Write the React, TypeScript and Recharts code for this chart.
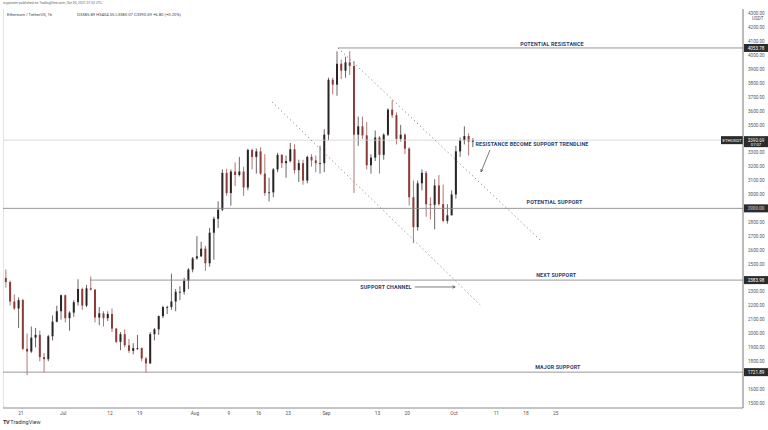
import { ComposedChart, Bar, XAxis, YAxis, ReferenceLine, ReferenceDot } from 'recharts';

// Daily ETH/USDT candles, Jun 17 -> Oct 5 2021 (day index 0 = Jun 17)
const opens = [
  2400, 2370, 2230, 2180, 2240, 1890, 1870, 1970, 1990, 1830, 1815, 1980, 2085, 2160,
  2275, 2110, 2150, 2225, 2320, 2200, 2325, 2315, 2115, 2145, 2110, 2140, 2035, 1940, 1995, 1915,
  1875, 1895, 1895, 1820, 1785, 1995, 2030, 2125, 2190, 2190, 2230, 2300, 2300, 2380, 2460,
  2540, 2555, 2610, 2505, 2725, 2825, 2890, 3155, 3010, 3165, 3140, 3165, 3050, 3320, 3270,
  3310, 3150, 3010, 3015, 3180, 3285, 3225, 3240, 3325, 3175, 3225, 3100, 3270, 3245, 3225, 3225,
  3430, 3825, 3790, 3940, 3890, 3950, 3925, 3430, 3490, 3425, 3210, 3265, 3410, 3285, 3430,
  3610, 3570, 3400, 3430, 3330, 2980, 2765, 3080, 3155, 2930, 2925, 3065, 2930, 2810, 2850,
  3000, 3310, 3390, 3420, 3380,
];
const highs = [
  2460, 2380, 2280, 2260, 2250, 2000, 2050, 2040, 2020, 1860, 1990, 2130, 2200, 2280,
  2280, 2160, 2240, 2390, 2330, 2350, 2410, 2320, 2190, 2160, 2160, 2180, 2040, 2010, 2030, 1960,
  1930, 1990, 1900, 1830, 2010, 2040, 2130, 2200, 2200, 2430, 2320, 2340, 2400, 2470, 2550,
  2700, 2660, 2630, 2760, 2840, 2950, 3180, 3185, 3180, 3230, 3270, 3200, 3330, 3330, 3330,
  3340, 3290, 3120, 3190, 3300, 3290, 3280, 3370, 3360, 3250, 3250, 3280, 3290, 3280, 3350, 3470,
  3840, 3840, 4030, 3970, 3990, 4030, 3960, 3560, 3560, 3520, 3290, 3460, 3420, 3440, 3620,
  3680, 3590, 3500, 3440, 3340, 3100, 3100, 3180, 3170, 2980, 3110, 3140, 3070, 2930, 3030,
  3350, 3410, 3490, 3440, 3405,
];
const lows = [
  2330, 2200, 2170, 2040, 1880, 1700, 1860, 1900, 1800, 1720, 1800, 1950, 2080, 2100,
  2080, 2020, 2120, 2200, 2170, 2190, 2310, 2080, 2060, 2050, 2090, 2010, 1930, 1880, 1900, 1860,
  1850, 1880, 1800, 1718, 1780, 1950, 1990, 2110, 2140, 2170, 2160, 2240, 2280, 2320, 2440,
  2530, 2550, 2450, 2480, 2530, 2760, 2880, 2990, 2920, 3060, 3130, 2990, 3030, 3180, 3150,
  3140, 2990, 2950, 2980, 3160, 3190, 3120, 3230, 3150, 3090, 3070, 3080, 3200, 3160, 3150, 3160,
  3390, 3720, 3710, 3830, 3840, 3860, 3010, 3350, 3400, 3180, 3150, 3240, 3150, 3250, 3420,
  3550, 3360, 3380, 3290, 2920, 2650, 2740, 3030, 2840, 2820, 2750, 2920, 2800, 2790, 2850,
  2970, 3270, 3360, 3280, 3340,
];
const closes = [
  2370, 2230, 2180, 2240, 1890, 1870, 1970, 1990, 1830, 1815, 1980, 2085, 2160, 2275,
  2110, 2150, 2225, 2320, 2200, 2325, 2315, 2115, 2145, 2110, 2140, 2035, 1940, 1995, 1915, 1875,
  1895, 1895, 1820, 1785, 1995, 2030, 2125, 2190, 2190, 2230, 2300, 2300, 2380, 2460, 2540,
  2555, 2610, 2505, 2725, 2825, 2890, 3155, 3010, 3165, 3140, 3165, 3050, 3320, 3270, 3310,
  3150, 3010, 3015, 3180, 3285, 3225, 3240, 3325, 3175, 3225, 3100, 3270, 3245, 3225, 3225, 3430,
  3825, 3790, 3940, 3890, 3950, 3925, 3430, 3490, 3425, 3210, 3265, 3410, 3285, 3430, 3610,
  3570, 3400, 3430, 3330, 2980, 2765, 3080, 3155, 2930, 2925, 3065, 2930, 2810, 2850, 3000,
  3310, 3390, 3420, 3380, 3390,
];

const tickDays = [4, 14, 25, 32, 45, 53, 60, 67, 76, 88, 95, 106, 116, 123, 130];
const tickLabels = ['21', 'Jul', '12', '19', 'Aug', '9', '16', '23', 'Sep', '13', '20', 'Oct', '11', '18', '25'];
// 1700 and 2400 sit under the level tags, so they are left out
const priceTicks = [1500, 1600, 1800, 1900, 2000, 2100, 2200, 2300, 2500, 2600, 2700, 2800,
  2900, 3000, 3100, 3200, 3300, 3400, 3500, 3600, 3700, 3800, 3900, 4000, 4100, 4200, 4300];

const resistance = 4053.78;
const lastPrice = 3390.69;
const potentialSupport = 2900;
const nextSupport = 2383.98;
const majorSupport = 1721.89;

// channel lines [day, price]
const upperChannel = [[78.7, 4054], [126.3, 2673]];
const lowerChannel = [[63.2, 3665], [112.2, 2205]];

const UP = '#2a2424';
const DOWN = '#8e3b3b';
const NAVY = '#1f3d70';
const FONT = 'Roboto, sans-serif';

const candles = opens.map((o, i) => ({
  t: i + 0.5,
  open: o,
  high: highs[i],
  low: lows[i],
  close: closes[i],
  range: [lows[i], highs[i]],
}));

function Candle(props: any) {
  const { x, y, width, height, payload } = props;
  const { open, close, high, low } = payload;
  const top = Math.min(y, y + height);
  const h = Math.abs(height);
  const ratio = h / Math.max(high - low, 1e-6);
  const yo = top + (high - open) * ratio;
  const yc = top + (high - close) * ratio;
  const color = close >= open ? UP : DOWN;
  const cx = x + width / 2;
  return (
    <g>
      <line x1={cx} x2={cx} y1={top} y2={top + h} stroke={color} strokeWidth={0.7} />
      <rect x={x} y={Math.min(yo, yc)} width={width} height={Math.max(Math.abs(yo - yc), 0.8)} fill={color} />
    </g>
  );
}

function AxisTag(props: any) {
  const { viewBox, text, sub } = props;
  if (!viewBox) return null;
  const x = viewBox.x + viewBox.width;
  const y = viewBox.y;
  const h = sub ? 11 : 8;
  return (
    <g fontFamily={FONT}>
      <rect x={x + 1} y={y - 4} width={24} height={h} fill="#2b2b2b" />
      <text x={x + 13} y={y + 1.8} textAnchor="middle" fontSize={4.6} fill="#fff">{text}</text>
      {sub && <text x={x + 13} y={y + 6} textAnchor="middle" fontSize={4.2} fill="#fff">{sub}</text>}
      {sub && <rect x={x - 22} y={y - 4} width={22} height={8} fill="#2b2b2b" />}
      {sub && <text x={x - 11} y={y + 1.8} textAnchor="middle" fontSize={4.4} fill="#fff">ETHUSDT</text>}
    </g>
  );
}

function Note(props: any) {
  const { viewBox, text } = props;
  if (!viewBox) return null;
  const cx = viewBox.x + viewBox.width / 2;
  const cy = viewBox.y + viewBox.height / 2;
  return (
    <text x={cx} y={cy + 1.8} textAnchor="middle" fontSize={5.3} fontWeight={700}
      fill={NAVY} fontFamily={FONT} letterSpacing={0.15}>{text}</text>
  );
}

function Arrow(props: any) {
  const { x1, y1, x2, y2 } = props;
  const a = Math.atan2(y2 - y1, x2 - x1);
  const s = 3;
  const p1 = `${x2 - s * Math.cos(a - 0.45)},${y2 - s * Math.sin(a - 0.45)}`;
  const p2 = `${x2 - s * Math.cos(a + 0.45)},${y2 - s * Math.sin(a + 0.45)}`;
  return (
    <g stroke="#444" strokeWidth={0.7} fill="none">
      <line x1={x1} y1={y1} x2={x2} y2={y2} />
      <polyline points={`${p1} ${x2},${y2} ${p2}`} />
    </g>
  );
}

function PriceTick(props: any) {
  const { x, y, payload } = props;
  return (
    <g fontFamily={FONT} fontSize={4.6} fill="#555">
      <text x={x} y={y + 1.6}>{payload.value.toFixed(2)}</text>
      {payload.value === 4300 && <text x={x + 4} y={y + 6.5}>USDT</text>}
    </g>
  );
}

const noteDot = { r: 0, fill: 'none', stroke: 'none' };

export default function App() {
  return (
    <div style={{ position: 'relative', width: 768, height: 430, background: '#fff', fontFamily: FONT }}>
      <style>{'body{margin:0}'}</style>
      <div style={{ position: 'absolute', left: 3, top: 1, fontSize: 3.4, color: '#666', whiteSpace: 'nowrap' }}>
        cryptoster published on TradingView.com, Oct 05, 2021 07:52 UTC
      </div>
      <div style={{ position: 'absolute', left: 7, top: 11.5, fontSize: 4.2, color: '#444', whiteSpace: 'nowrap' }}>
        Ethereum / TetherUS, 1h
      </div>
      <div style={{ position: 'absolute', left: 77, top: 11.5, fontSize: 4.2, color: '#444', whiteSpace: 'nowrap' }}>
        O3385.89 H3404.55 L3380.07 C3390.69 +6.80 (+0.20%)
      </div>
      <div style={{ position: 'absolute', left: 3, top: 9, width: 1, height: 399, background: '#e4e4e4' }} />
      <ComposedChart width={768} height={430} data={candles} margin={{ top: 9, right: 0, left: 3, bottom: 0 }}>
        <XAxis dataKey="t" type="number" domain={[-0.2, 174.1]} allowDataOverflow ticks={tickDays}
          tickFormatter={(v: number) => tickLabels[tickDays.indexOf(v)] ?? ''}
          height={22} tickLine={false} tickSize={0} tickMargin={4} axisLine={{ stroke: '#8a8a8a' }}
          tick={{ fontSize: 4.8, fill: '#555', fontFamily: FONT }} interval={0} />
        <YAxis orientation="right" type="number" domain={[1464, 4334]} allowDataOverflow ticks={priceTicks}
          width={25} tickLine={false} tickSize={0} tickMargin={5} axisLine={{ stroke: '#777' }}
          tick={<PriceTick />} interval={0} />

        <ReferenceLine y={lastPrice} stroke="#cfcfcf" strokeWidth={0.8}
          label={<AxisTag text={lastPrice.toFixed(2)} sub="07:07" />} />
        <ReferenceLine y={potentialSupport} stroke="#8c8c8c" strokeWidth={0.9}
          label={<AxisTag text={potentialSupport.toFixed(2)} />} />
        <ReferenceLine y={majorSupport} stroke="#8c8c8c" strokeWidth={0.9}
          label={<AxisTag text={majorSupport.toFixed(2)} />} />
        <ReferenceLine segment={[{ x: 78.7, y: resistance }, { x: 174.1, y: resistance }]} stroke="#8c8c8c" strokeWidth={0.9}
          label={<AxisTag text={resistance.toFixed(2)} />} />
        <ReferenceLine segment={[{ x: 20.3, y: nextSupport }, { x: 174.1, y: nextSupport }]} stroke="#8c8c8c" strokeWidth={0.9}
          label={<AxisTag text={nextSupport.toFixed(2)} />} />

        <ReferenceLine segment={[{ x: upperChannel[0][0], y: upperChannel[0][1] }, { x: upperChannel[1][0], y: upperChannel[1][1] }]}
          stroke="#777" strokeWidth={0.9} strokeDasharray="1.2 3" />
        <ReferenceLine segment={[{ x: lowerChannel[0][0], y: lowerChannel[0][1] }, { x: lowerChannel[1][0], y: lowerChannel[1][1] }]}
          stroke="#777" strokeWidth={0.9} strokeDasharray="1.2 3" />

        <ReferenceLine segment={[{ x: 96.8, y: 2334.5 }, { x: 106.3, y: 2334.5 }]} shape={<Arrow />} />
        <ReferenceLine segment={[{ x: 114.5, y: 3320 }, { x: 112.4, y: 3162 }]} shape={<Arrow />} />

        <ReferenceDot x={129.1} y={4083} {...noteDot} label={<Note text="POTENTIAL RESISTANCE" />} />
        <ReferenceDot x={124.4} y={3363} {...noteDot} label={<Note text="RESISTANCE BECOME SUPPORT TRENDLINE" />} />
        <ReferenceDot x={129.7} y={2946} {...noteDot} label={<Note text="POTENTIAL SUPPORT" />} />
        <ReferenceDot x={130.1} y={2421} {...noteDot} label={<Note text="NEXT SUPPORT" />} />
        <ReferenceDot x={90.0} y={2334.5} {...noteDot} label={<Note text="SUPPORT CHANNEL" />} />
        <ReferenceDot x={130.5} y={1759} {...noteDot} label={<Note text="MAJOR SUPPORT" />} />

        <Bar dataKey="range" barSize={2} shape={<Candle />} isAnimationActive={false} />
      </ComposedChart>
      <div style={{ position: 'absolute', left: 3, top: 419, fontSize: 5.5, color: '#333', whiteSpace: 'nowrap' }}>
        <b style={{ letterSpacing: -0.5 }}>TV</b> TradingView
      </div>
    </div>
  );
}
